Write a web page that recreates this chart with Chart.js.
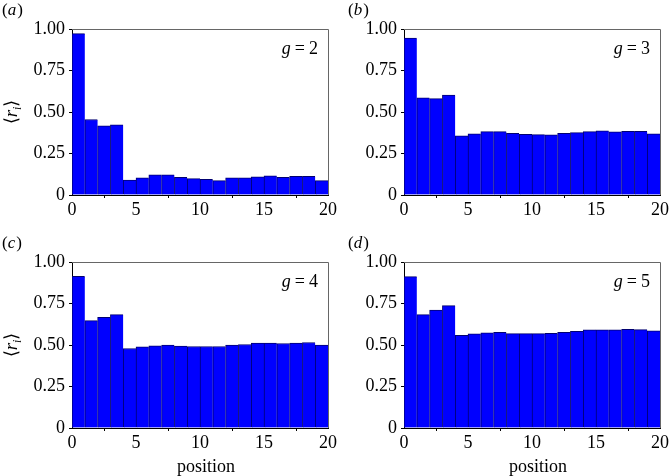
<!DOCTYPE html>
<html lang="en">
<head>
<meta charset="UTF-8">
<title>Mean r_i by position</title>
<script src="https://cdn.jsdelivr.net/npm/chart.js"></script>
<style>
  body { margin: 0; background: #fff; }
  .page { position: relative; width: 670px; height: 476px; overflow: hidden; }
  .panel { position: absolute; }
  canvas { display: block; }
</style>
</head>
<body>
<div class="page">
  <div class="panel" style="left:0;top:0"><canvas id="chartA" width="345" height="236"></canvas></div>
  <div class="panel" style="left:335px;top:0"><canvas id="chartB" width="335" height="236"></canvas></div>
  <div class="panel" style="left:0;top:236px"><canvas id="chartC" width="345" height="240"></canvas></div>
  <div class="panel" style="left:335px;top:236px"><canvas id="chartD" width="335" height="240"></canvas></div>
</div>

<script>
// bin starts (each bar covers [start, start + 1])
const binStarts = [0, 1, 2, 3, 4, 5, 6, 7, 8, 9, 10, 11, 12, 13, 14, 15, 16, 17, 18, 19];

// <r_i> per position
const ratesG2 = [0.972, 0.455, 0.417, 0.423, 0.090, 0.103, 0.121, 0.121, 0.107, 0.099,
                 0.095, 0.087, 0.103, 0.103, 0.109, 0.115, 0.107, 0.113, 0.113, 0.087];
const ratesG3 = [0.946, 0.585, 0.581, 0.602, 0.356, 0.368, 0.382, 0.382, 0.372, 0.366,
                 0.364, 0.362, 0.372, 0.376, 0.382, 0.386, 0.380, 0.384, 0.384, 0.368];
const ratesG4 = [0.914, 0.647, 0.667, 0.683, 0.479, 0.489, 0.495, 0.499, 0.493, 0.491,
                 0.491, 0.491, 0.499, 0.503, 0.511, 0.511, 0.509, 0.511, 0.515, 0.499];
const ratesG5 = [0.912, 0.683, 0.711, 0.737, 0.559, 0.567, 0.573, 0.577, 0.569, 0.569,
                 0.569, 0.571, 0.577, 0.583, 0.591, 0.591, 0.591, 0.595, 0.593, 0.585];

const xTicks = [0, 5, 10, 15, 20];
const yTicks = [0, 0.25, 0.5, 0.75, 1];

const SERIF = "'Liberation Serif', 'Times New Roman', serif";

// draws the frame, panel letter, g label and axis titles
const panelText = {
  id: 'panelText',
  afterDraw(chart, args, opts) {
    const ctx = chart.ctx;
    const a = chart.chartArea;
    ctx.save();

    // top and right frame lines
    ctx.strokeStyle = '#666';
    ctx.lineWidth = 1;
    ctx.beginPath();
    ctx.moveTo(a.left, Math.round(a.top) + 0.5);
    ctx.lineTo(Math.round(a.right) + 0.5, Math.round(a.top) + 0.5);
    ctx.lineTo(Math.round(a.right) + 0.5, a.bottom);
    ctx.stroke();

    ctx.fillStyle = '#000';
    ctx.textBaseline = 'alphabetic';
    ctx.textAlign = 'left';

    // (a), (b) ...
    let x = opts.letterX;
    const ly = a.top - 14;
    ctx.font = '17px ' + SERIF;
    ctx.fillText('(', x, ly);
    x += ctx.measureText('(').width;
    ctx.font = 'italic 17px ' + SERIF;
    ctx.fillText(opts.letter, x, ly);
    x += ctx.measureText(opts.letter).width + 1;
    ctx.font = '17px ' + SERIF;
    ctx.fillText(')', x, ly);

    // g = n, right aligned in the plot
    const num = String(opts.g);
    ctx.font = 'italic 18px ' + SERIF;
    const gw = ctx.measureText('g').width;
    ctx.font = '18px ' + SERIF;
    const ew = ctx.measureText('=').width;
    const nw = ctx.measureText(num).width;
    const gap = 4;
    let gx = a.right - 10 - (gw + gap + ew + gap + nw);
    const gy = a.top + 25;
    ctx.font = 'italic 18px ' + SERIF;
    ctx.fillText('g', gx, gy);
    gx += gw + gap;
    ctx.font = '18px ' + SERIF;
    ctx.fillText('=', gx, gy);
    gx += ew + gap;
    ctx.fillText(num, gx, gy);

    // x title
    if (opts.xTitle) {
      ctx.font = '18px ' + SERIF;
      ctx.textAlign = 'center';
      ctx.fillText('position', (a.left + a.right) / 2 + 6, a.bottom + 44);
      ctx.textAlign = 'left';
    }

    // y title <r_i>, rotated
    if (opts.yTitle) {
      ctx.translate(12, (a.top + a.bottom) / 2);
      ctx.rotate(-Math.PI / 2);
      const parts = [
        { t: '\u27E8', f: '18px ' + SERIF, dy: 0 },
        { t: 'r', f: 'italic 19px ' + SERIF, dy: 0 },
        { t: 'i', f: 'italic 12px ' + SERIF, dy: 4 },
        { t: '\u27E9', f: '18px ' + SERIF, dy: 0 }
      ];
      let total = 0;
      parts.forEach(p => { ctx.font = p.f; p.w = ctx.measureText(p.t).width; total += p.w; });
      let px = -total / 2;
      parts.forEach(p => {
        ctx.font = p.f;
        ctx.fillText(p.t, px, 5 + p.dy);
        px += p.w;
      });
    }

    ctx.restore();
  }
};

function makePanel(canvasId, values, letter, g, plot, showX, showY, letterX) {
  const canvas = document.getElementById(canvasId);
  const W = canvas.width, H = canvas.height;
  return new Chart(canvas.getContext('2d'), {
    type: 'bar',
    data: {
      datasets: [{
        data: binStarts.map((b, i) => ({ x: b + 0.5, y: values[i] })),
        backgroundColor: '#0000ff',
        borderColor: '#000070',
        borderWidth: { top: 1, left: 1, right: 0, bottom: 0 },
        borderSkipped: false,
        barPercentage: 1,
        categoryPercentage: 1
      }]
    },
    options: {
      responsive: false,
      animation: false,
      layout: { padding: { left: 0, top: plot.top, right: W - plot.right, bottom: 0 } },
      plugins: {
        legend: { display: false },
        tooltip: { enabled: false },
        panelText: { letter: letter, g: g, xTitle: showX, yTitle: showY, letterX: letterX }
      },
      scales: {
        x: {
          type: 'linear',
          min: 0,
          max: 20,
          offset: false,
          z: 1,
          afterBuildTicks: s => { s.ticks = xTicks.map(v => ({ value: v })); },
          afterFit: s => { s.height = H - plot.bottom; },
          ticks: { color: '#000', font: { family: SERIF, size: 18 }, padding: 1, maxRotation: 0 },
          grid: { drawOnChartArea: false, drawTicks: true, tickLength: 3, color: '#000' },
          border: { color: '#000', width: 1 }
        },
        y: {
          min: 0,
          max: 1,
          z: 1,
          afterBuildTicks: s => { s.ticks = yTicks.map(v => ({ value: v })); },
          afterFit: s => { s.width = plot.left; },
          ticks: {
            color: '#000',
            font: { family: SERIF, size: 18 },
            padding: 4,
            callback: v => v === 0 ? '0' : v.toFixed(2)
          },
          grid: { drawOnChartArea: false, drawTicks: true, tickLength: 3, color: '#000' },
          border: { color: '#000', width: 1 }
        }
      }
    },
    plugins: [panelText]
  });
}

makePanel('chartA', ratesG2, 'a', 2, { left: 72, top: 29, right: 328, bottom: 195 }, false, true, 2);
makePanel('chartB', ratesG3, 'b', 3, { left: 69, top: 29, right: 325, bottom: 195 }, false, false, 13);
makePanel('chartC', ratesG4, 'c', 4, { left: 72, top: 26, right: 328, bottom: 192 }, true, true, 2);
makePanel('chartD', ratesG5, 'd', 5, { left: 69, top: 26, right: 325, bottom: 192 }, true, false, 13);
</script>
</body>
</html>
